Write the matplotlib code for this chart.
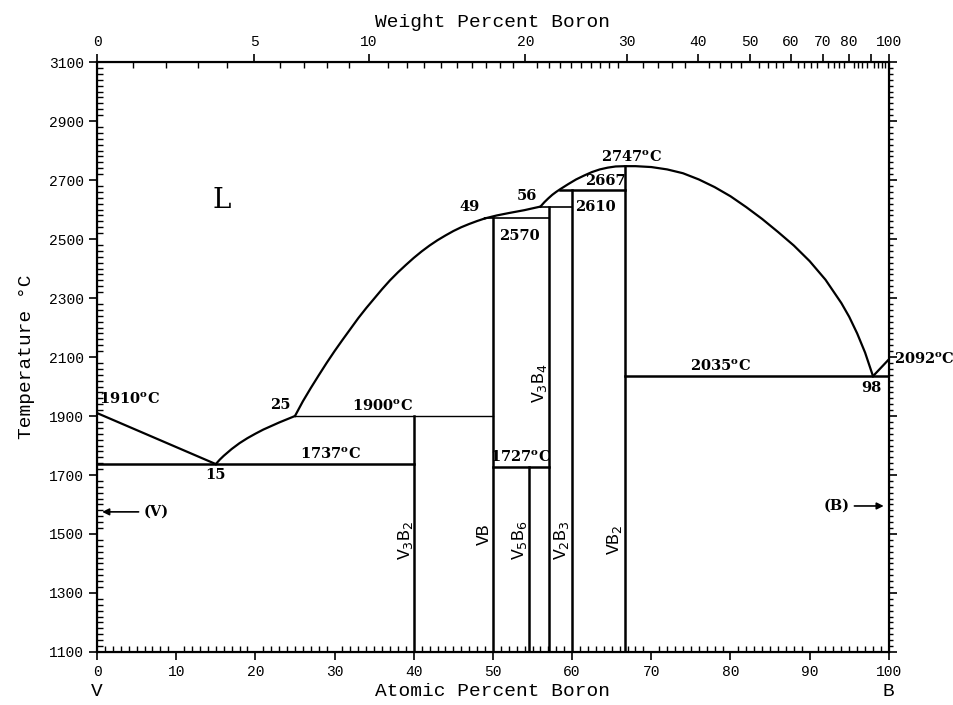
import numpy as np
import matplotlib
matplotlib.use('Agg')
import matplotlib.pyplot as plt
from matplotlib.ticker import MultipleLocator, FixedLocator

# phase boundaries (atomic % B, temperature degC)
liq_left_x = [0, 15]
liq_left_t = [1910, 1737]
liq_a_x = [15, 15.5, 16, 17, 18, 19, 20, 21, 22, 23, 24, 25]
liq_a_t = [1737, 1752, 1765, 1788, 1808, 1825, 1840, 1854, 1866, 1878, 1889, 1900]
liq_b_x = [25, 26, 27, 28, 29, 30, 31, 32, 33, 34, 35, 36, 37, 38, 39, 40,
           41, 42, 43, 44, 45, 46, 47, 48, 49]
liq_b_t = [1900, 1950, 1995, 2038, 2080, 2120, 2158, 2195, 2232, 2266, 2298,
           2330, 2360, 2387, 2412, 2436, 2458, 2478, 2496, 2512, 2527, 2540,
           2551, 2561, 2570]
liq_c_x = [49, 50.5, 52, 54, 55, 56]
liq_c_t = [2570, 2580, 2588, 2598, 2604, 2610]
liq_d_x = [56, 56.5, 57, 57.5, 58, 58.5, 59.5, 60.5, 61.5, 62.5, 63.5, 64.5,
           65.5, 66.7, 68, 70, 72, 74, 76, 78, 80, 82, 84, 86, 88, 90, 92, 94,
           95, 96, 97, 98]
liq_d_t = [2610, 2625, 2638, 2650, 2660, 2669, 2686, 2702, 2715, 2727, 2736,
           2742, 2746, 2747, 2747, 2744, 2736, 2723, 2702, 2676, 2645, 2608,
           2568, 2524, 2478, 2425, 2362, 2283, 2236, 2180, 2115, 2035]
liq_e_x = [98, 100]
liq_e_t = [2035, 2092]

# invariant lines: (x_start, x_end, T, linewidth)
horiz = [(0, 40, 1737, 1.8), (25, 50, 1900, 1.0), (50, 57.1, 1727, 1.8),
         (49, 57.1, 2570, 1.2), (56, 60, 2610, 1.2), (58.5, 66.7, 2667, 1.8),
         (66.7, 100, 2035, 1.8)]
# compounds: (x, T_top, label, label_x, label_T)
compounds = [(40, 1900, r'V$_3$B$_2$', 38.9, 1480),
             (50, 2570, 'VB', 48.9, 1500),
             (54.5, 1727, r'V$_5$B$_6$', 53.4, 1480),
             (57.1, 2610, r'V$_3$B$_4$', 55.9, 2010),
             (60, 2667, r'V$_2$B$_3$', 58.7, 1480),
             (66.7, 2747, r'VB$_2$', 65.3, 1480)]

temp_ticks = list(range(1100, 3101, 200))
at_ticks = list(range(0, 101, 10))
wt_major = [0, 5, 10, 20, 30, 40, 50, 60, 70, 80, 90, 100]
wt_labels = ['0', '5', '10', '20', '30', '40', '50', '60', '70', '80', '', '100']
wt_minor = list(range(1, 30)) + list(range(32, 100, 2))


def wt2at(w):
    w = np.asarray(w, dtype=float)
    a = w / 10.81
    b = (100 - w) / 50.94
    return 100 * a / (a + b)


fig = plt.figure(figsize=(9.54, 7.05), dpi=100)
ax = fig.add_axes([0.1017, 0.0752, 0.830, 0.8368])
serif = 'DejaVu Serif'
mono = 'Liberation Mono'
k = 'black'

for xs, ts in [(liq_left_x, liq_left_t), (liq_a_x, liq_a_t),
               (liq_b_x, liq_b_t), (liq_c_x, liq_c_t),
               (liq_d_x, liq_d_t), (liq_e_x, liq_e_t)]:
    ax.plot(xs, ts, color=k, lw=1.6)
for x0, x1, t, lw in horiz:
    ax.plot([x0, x1], [t, t], color=k, lw=lw)
for x, top, lab, lx, lt in compounds:
    ax.plot([x, x], [1100, top], color=k, lw=1.8)
    ax.text(lx, lt, lab, rotation=90, ha='center', va='center',
            fontsize=13, family=mono)

ann = dict(fontsize=10.5, family=serif, fontweight='bold')
deg = '$^\\mathregular{o}$C'
ax.text(0.2, 1930, '1910' + deg, ha='left', va='bottom', **ann)
ax.text(15, 1700, '15', ha='center', va='center', **ann)
ax.text(29.5, 1745, '1737' + deg, ha='center', va='bottom', **ann)
ax.text(24.5, 1912, '25', ha='right', va='bottom', **ann)
ax.text(36, 1908, '1900' + deg, ha='center', va='bottom', **ann)
ax.text(48.3, 2585, '49', ha='right', va='bottom', **ann)
ax.text(53.3, 2510, '2570', ha='center', va='center', **ann)
ax.text(55.6, 2622, '56', ha='right', va='bottom', **ann)
ax.text(60.4, 2610, '2610', ha='left', va='center', **ann)
ax.text(64.2, 2672, '2667', ha='center', va='bottom', **ann)
ax.text(67.5, 2752, '2747' + deg, ha='center', va='bottom', **ann)
ax.text(53.5, 1735, '1727' + deg, ha='center', va='bottom', **ann)
ax.text(78.7, 2043, '2035' + deg, ha='center', va='bottom', **ann)
ax.text(97.8, 1995, '98', ha='center', va='center', **ann)
ax.text(100.6, 2092, '2092' + deg, ha='left', va='center',
        clip_on=False, **ann)
ax.text(15.8, 2630, 'L', ha='center', va='center', fontsize=20, family=serif)

ax.annotate('', xy=(0.3, 1575), xytext=(5.6, 1575),
            arrowprops=dict(arrowstyle='-|>', color=k, lw=1.2))
ax.text(5.9, 1575, '(V)', ha='left', va='center', **ann)
ax.annotate('', xy=(99.7, 1595), xytext=(95.3, 1595),
            arrowprops=dict(arrowstyle='-|>', color=k, lw=1.2))
ax.text(95.0, 1595, '(B)', ha='right', va='center', **ann)

ax.set_xlim(0, 100)
ax.set_ylim(1100, 3100)
ax.xaxis.set_major_locator(FixedLocator(at_ticks))
ax.xaxis.set_minor_locator(MultipleLocator(1))
ax.yaxis.set_major_locator(FixedLocator(temp_ticks))
ax.yaxis.set_minor_locator(MultipleLocator(20))
ax.tick_params(which='major', direction='out', length=6, width=1.2,
               labelsize=10.5)
ax.tick_params(which='minor', direction='in', length=4, width=1)
for lab in ax.get_xticklabels() + ax.get_yticklabels():
    lab.set_family(mono)
for sp in ax.spines.values():
    sp.set_linewidth(1.5)

ax.set_xlabel('Atomic Percent Boron', family=mono, fontsize=14, labelpad=3)
ax.set_ylabel('Temperature °C', family=mono, fontsize=14, labelpad=10)
ax.text(0, -0.053, 'V', transform=ax.transAxes, ha='center', va='top',
        family=mono, fontsize=14)
ax.text(1, -0.053, 'B', transform=ax.transAxes, ha='center', va='top',
        family=mono, fontsize=14)

ax2 = ax.twiny()
ax2.set_xlim(0, 100)
ax2.xaxis.set_major_locator(FixedLocator(wt2at(wt_major)))
ax2.set_xticklabels(wt_labels, family=mono, fontsize=10.5)
ax2.xaxis.set_minor_locator(FixedLocator(wt2at(wt_minor)))
ax2.tick_params(which='major', direction='out', length=6, width=1.2)
ax2.tick_params(which='minor', direction='in', length=4, width=1)
ax2.set_xlabel('Weight Percent Boron', family=mono, fontsize=14, labelpad=6)
for sp in ax2.spines.values():
    sp.set_linewidth(1.5)

ax3 = ax.twinx()
ax3.set_ylim(1100, 3100)
ax3.yaxis.set_major_locator(FixedLocator(temp_ticks))
ax3.yaxis.set_minor_locator(MultipleLocator(20))
ax3.tick_params(which='both', direction='out', labelright=False)
ax3.tick_params(which='major', length=6, width=1.2)
ax3.tick_params(which='minor', length=3, width=1)

fig.savefig('out.png', dpi=100)
